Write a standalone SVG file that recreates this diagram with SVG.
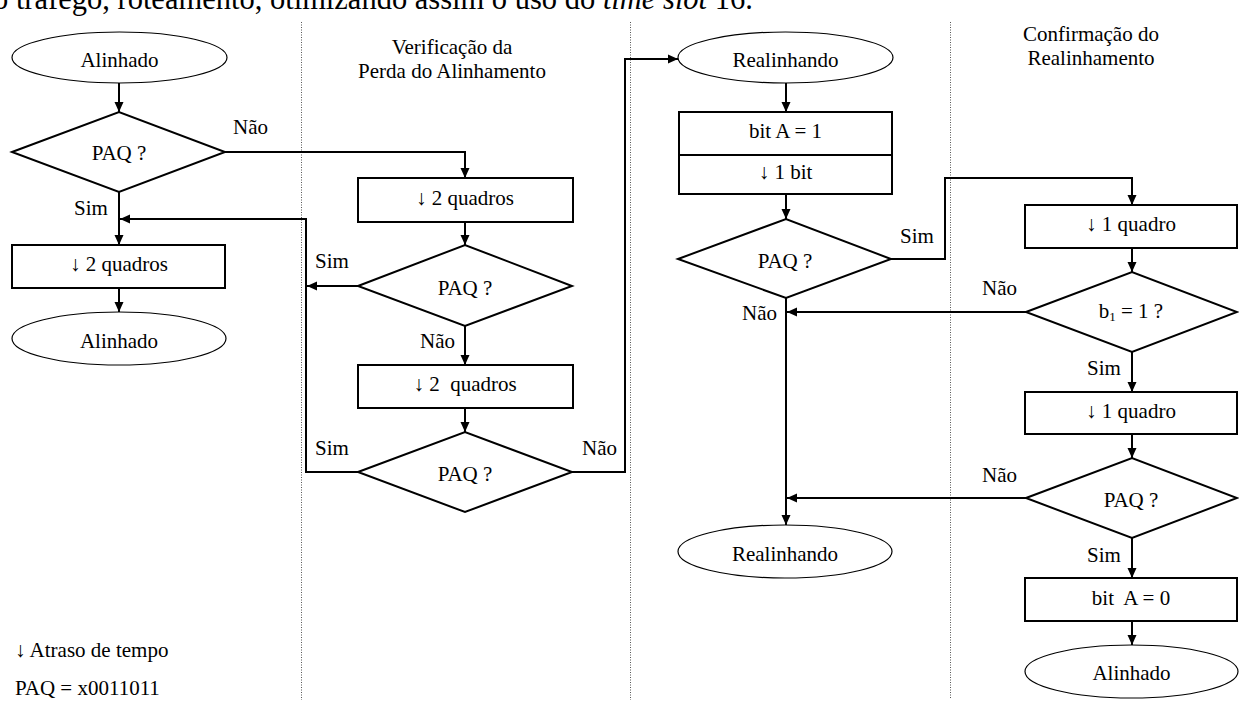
<svg xmlns="http://www.w3.org/2000/svg" width="1239" height="711" viewBox="0 0 1239 711">
  <style>
    text { font-family: "Liberation Serif", "Times New Roman", serif; font-size: 21px; fill: #000; }
    .c { text-anchor: middle; }
    .body { font-size: 30.5px; }
    .shape { fill: #fff; stroke: #000; stroke-width: 2; }
    .term { fill: #fff; stroke: #000; stroke-width: 1.2; }
    .sep { stroke: #555; stroke-width: 1; stroke-dasharray: 1 1.5; fill: none; }
    .flow { fill: none; stroke: #000; stroke-width: 2; marker-end: url(#arr); }
    .line { fill: none; stroke: #000; stroke-width: 2; }
  </style>
  <defs>
    <marker id="arr" markerWidth="10" markerHeight="10" refX="10" refY="5" orient="auto" markerUnits="userSpaceOnUse">
      <path d="M0,0.5 L10,5 L0,9.5 Z" fill="#000"/>
    </marker>
  </defs>
  <rect width="1239" height="711" fill="#fff"/>

  <!-- running text of the page above the figure -->
  <text class="body" x="-7" y="9" xml:space="preserve">o tráfego, roteamento, otimizando assim o uso do <tspan font-style="italic">time slot</tspan> 16.</text>

  <!-- column separators -->
  <g id="separators">
    <line class="sep" x1="301.5" y1="22" x2="301.5" y2="700"/>
    <line class="sep" x1="630.5" y1="22" x2="630.5" y2="700"/>
    <line class="sep" x1="950.5" y1="22" x2="950.5" y2="698"/>
  </g>

  <!-- column headings -->
  <g id="heading-verificacao">
    <text class="c" x="452" y="54">Verificação da</text>
    <text class="c" x="452" y="78">Perda do Alinhamento</text>
  </g>
  <g id="heading-confirmacao">
    <text class="c" x="1091" y="41">Confirmação do</text>
    <text class="c" x="1091" y="65">Realinhamento</text>
  </g>

  <!-- connectors -->
  <g id="connectors">
    <path class="flow" d="M119,83 V112"/>
    <path class="flow" d="M225,152 H465 V178"/>
    <path class="flow" d="M119,192 V245"/>
    <path class="flow" d="M358,472 H306 V219 H120"/>
    <path class="flow" d="M358,286 H307"/>
    <path class="flow" d="M465,222 V245"/>
    <path class="flow" d="M465,326 V365"/>
    <path class="flow" d="M465,408 V432"/>
    <path class="flow" d="M572,472 H625 V59 H678"/>
    <path class="flow" d="M119,288 V312"/>
    <path class="flow" d="M786,83 V112"/>
    <path class="flow" d="M786,194 V219"/>
    <path class="flow" d="M891,259 H945 V178 H1132 V205"/>
    <path class="flow" d="M786,298 V525"/>
    <path class="flow" d="M1132,248 V272"/>
    <path class="flow" d="M1026,312 H787"/>
    <path class="flow" d="M1132,352 V392"/>
    <path class="flow" d="M1132,434 V458"/>
    <path class="flow" d="M1026,498 H787"/>
    <path class="flow" d="M1132,538 V578"/>
    <path class="flow" d="M1132,621 V645"/>
  </g>

  <!-- branch labels -->
  <g id="labels">
    <text x="233" y="134">Não</text>
    <text x="74" y="215">Sim</text>
    <text x="315" y="268">Sim</text>
    <text x="420" y="348">Não</text>
    <text x="315" y="455">Sim</text>
    <text x="582" y="455">Não</text>
    <text x="900" y="243">Sim</text>
    <text x="742" y="320">Não</text>
    <text x="982" y="295">Não</text>
    <text x="1087" y="375">Sim</text>
    <text x="982" y="482">Não</text>
    <text x="1087" y="562">Sim</text>
  </g>

  <!-- column 1: aligned state -->
  <g id="alinhado-1">
    <ellipse class="term" cx="119.5" cy="57.5" rx="107.5" ry="25.5"/>
    <text class="c" x="119.5" y="67">Alinhado</text>
  </g>
  <g id="paq-1">
    <polygon class="shape" points="12,152 119,112 225,152 119,192"/>
    <text class="c" x="119" y="160">PAQ ?</text>
  </g>
  <g id="atraso-1">
    <rect class="shape" x="12" y="245" width="213" height="43"/>
    <text class="c" x="119" y="271">↓ 2 quadros</text>
  </g>
  <g id="alinhado-2">
    <ellipse class="term" cx="119" cy="338.5" rx="107" ry="26.5"/>
    <text class="c" x="119" y="348">Alinhado</text>
  </g>

  <!-- column 2: loss-of-alignment check -->
  <g id="atraso-2">
    <rect class="shape" x="358" y="178" width="215" height="44"/>
    <text class="c" x="465" y="205">↓ 2 quadros</text>
  </g>
  <g id="paq-2">
    <polygon class="shape" points="358,286 465,245 572,286 465,326"/>
    <text class="c" x="465" y="295">PAQ ?</text>
  </g>
  <g id="atraso-3">
    <rect class="shape" x="358" y="365" width="215" height="43"/>
    <text class="c" x="465" y="391" xml:space="preserve">↓ 2  quadros</text>
  </g>
  <g id="paq-3">
    <polygon class="shape" points="358,472 465,432 572,472 465,512"/>
    <text class="c" x="465" y="481">PAQ ?</text>
  </g>

  <!-- column 3: realigning -->
  <g id="realinhando-1">
    <ellipse class="term" cx="785.5" cy="57.5" rx="107.5" ry="25.5"/>
    <text class="c" x="785.5" y="67">Realinhando</text>
  </g>
  <g id="bit-a-1">
    <rect class="shape" x="679" y="112" width="213" height="82"/>
    <line class="line" x1="679" y1="155" x2="892" y2="155"/>
    <text class="c" x="785.5" y="138">bit A = 1</text>
    <text class="c" x="785.5" y="179">↓ 1 bit</text>
  </g>
  <g id="paq-4">
    <polygon class="shape" points="678,259 786,219 891,259 786,298"/>
    <text class="c" x="785" y="268">PAQ ?</text>
  </g>
  <g id="realinhando-2">
    <ellipse class="term" cx="785" cy="551.5" rx="107" ry="26.5"/>
    <text class="c" x="785" y="561">Realinhando</text>
  </g>

  <!-- column 4: realignment confirmation -->
  <g id="atraso-4">
    <rect class="shape" x="1025" y="205" width="212" height="43"/>
    <text class="c" x="1131" y="231">↓ 1 quadro</text>
  </g>
  <g id="b1">
    <polygon class="shape" points="1026,312 1132,272 1237,312 1132,352"/>
    <text class="c" x="1131" y="318">b<tspan font-size="13" dy="3">1</tspan><tspan dy="-3"> = 1 ?</tspan></text>
  </g>
  <g id="atraso-5">
    <rect class="shape" x="1025" y="392" width="212" height="42"/>
    <text class="c" x="1131" y="418">↓ 1 quadro</text>
  </g>
  <g id="paq-5">
    <polygon class="shape" points="1026,498 1132,458 1237,498 1132,538"/>
    <text class="c" x="1131" y="507">PAQ ?</text>
  </g>
  <g id="bit-a-0">
    <rect class="shape" x="1025" y="578" width="212" height="43"/>
    <text class="c" x="1131" y="605" xml:space="preserve">bit  A = 0</text>
  </g>
  <g id="alinhado-3">
    <ellipse class="term" cx="1131.5" cy="671.5" rx="106.5" ry="26.5"/>
    <text class="c" x="1131.5" y="680">Alinhado</text>
  </g>

  <!-- legend -->
  <g id="legend">
    <text x="15" y="657">↓ Atraso de tempo</text>
    <text x="15" y="695">PAQ = x0011011</text>
  </g>
</svg>
